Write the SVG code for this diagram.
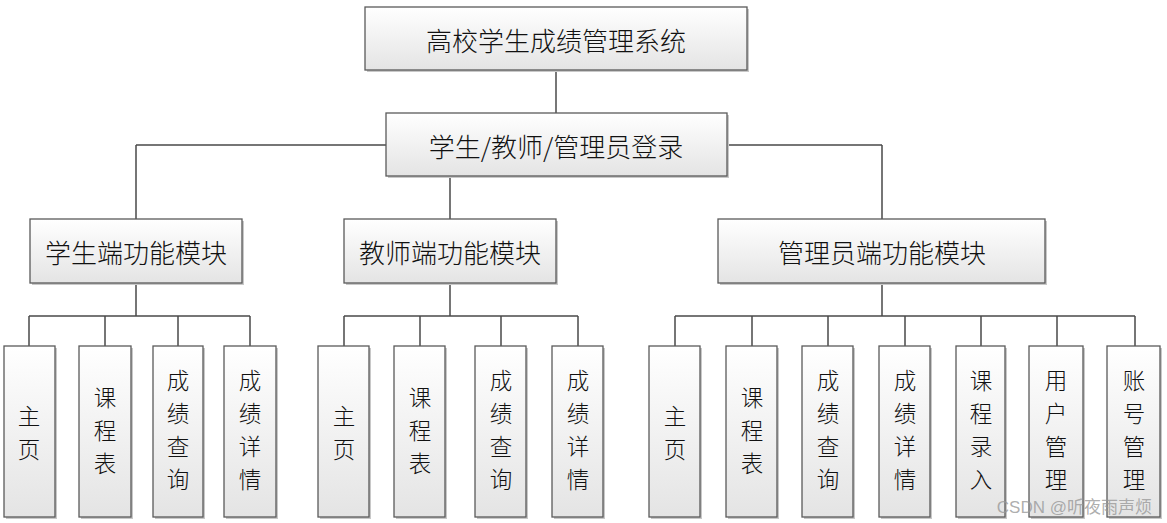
<svg xmlns="http://www.w3.org/2000/svg" width="1167" height="523" viewBox="0 0 1167 523">
<defs>
<linearGradient id="g" x1="0" y1="0" x2="0" y2="1">
<stop offset="0" stop-color="#ffffff"/>
<stop offset="1" stop-color="#e4e4e4"/>
</linearGradient>
<style>
.box{fill:url(#g);stroke:#5a5a5a;stroke-width:1.3}
.sh{fill:#c8c8c8}
.t{font-family:"Noto Sans CJK SC","Liberation Sans",sans-serif;font-size:26px;font-weight:300;fill:#111;text-anchor:middle;dominant-baseline:central}
.lt{font-family:"Noto Sans CJK SC","Liberation Sans",sans-serif;font-size:22.5px;font-weight:300;fill:#111;text-anchor:middle;dominant-baseline:central}
.c{stroke:#4a4a4a;stroke-width:1.5;fill:none}
.wm{font-family:"Liberation Sans","Noto Sans CJK SC",sans-serif;font-size:17px;fill:#999;fill-opacity:0.8;text-anchor:end}
</style>
</defs>
<rect width="1167" height="523" fill="#fff"/>
<g id="connectors">
<path class="c" d="M556 70V113"/>
<path class="c" d="M136 145H386M727 145H882M136 145V219M882 145V219M450 176V219"/>
<path class="c" d="M136 283V316M29 316H250M29 316V346M105 316V346M178 316V346M250 316V346"/>
<path class="c" d="M450 283V316M344 316H578M344 316V346M420 316V346M501 316V346M578 316V346"/>
<path class="c" d="M882 283V316M675 316H1135M675 316V346M752 316V346M828 316V346M905 316V346M981 316V346M1057 316V346M1135 316V346"/>
</g>
<g id="root"><rect class="sh" x="367" y="9" width="382" height="63"/><rect class="box" x="365" y="7" width="382" height="63"/><text class="t" x="556" y="39">高校学生成绩管理系统</text></g>
<g id="login"><rect class="sh" x="388" y="115" width="341" height="63"/><rect class="box" x="386" y="113" width="341" height="63"/><text class="t" x="556" y="145">学生/教师/管理员登录</text></g>
<g id="student"><rect class="sh" x="32" y="221" width="212" height="64"/><rect class="box" x="30" y="219" width="212" height="64"/><text class="t" x="136" y="251">学生端功能模块</text></g>
<g id="teacher"><rect class="sh" x="346" y="221" width="212" height="64"/><rect class="box" x="344" y="219" width="212" height="64"/><text class="t" x="450" y="251">教师端功能模块</text></g>
<g id="admin"><rect class="sh" x="720" y="221" width="327" height="64"/><rect class="box" x="718" y="219" width="327" height="64"/><text class="t" x="882" y="251">管理员端功能模块</text></g>

<g id="s1"><rect class="sh" x="6" y="348" width="51" height="171"/><rect class="box" x="4" y="346" width="51" height="171"/><text class="lt"><tspan x="29" y="415">主</tspan><tspan x="29" y="448">页</tspan></text></g>
<g id="s2"><rect class="sh" x="81" y="348" width="52" height="171"/><rect class="box" x="79" y="346" width="52" height="171"/><text class="lt"><tspan x="105" y="396">课</tspan><tspan x="105" y="429">程</tspan><tspan x="105" y="462">表</tspan></text></g>
<g id="s3"><rect class="sh" x="155" y="348" width="50" height="171"/><rect class="box" x="153" y="346" width="50" height="171"/><text class="lt"><tspan x="178" y="379">成</tspan><tspan x="178" y="412">绩</tspan><tspan x="178" y="445">查</tspan><tspan x="178" y="478">询</tspan></text></g>
<g id="s4"><rect class="sh" x="226" y="348" width="52" height="171"/><rect class="box" x="224" y="346" width="52" height="171"/><text class="lt"><tspan x="250" y="379">成</tspan><tspan x="250" y="412">绩</tspan><tspan x="250" y="445">详</tspan><tspan x="250" y="478">情</tspan></text></g>

<g id="t1"><rect class="sh" x="320" y="348" width="51" height="171"/><rect class="box" x="318" y="346" width="51" height="171"/><text class="lt"><tspan x="344" y="415">主</tspan><tspan x="344" y="448">页</tspan></text></g>
<g id="t2"><rect class="sh" x="396" y="348" width="51" height="171"/><rect class="box" x="394" y="346" width="51" height="171"/><text class="lt"><tspan x="420" y="396">课</tspan><tspan x="420" y="429">程</tspan><tspan x="420" y="462">表</tspan></text></g>
<g id="t3"><rect class="sh" x="477" y="348" width="51" height="171"/><rect class="box" x="475" y="346" width="51" height="171"/><text class="lt"><tspan x="501" y="379">成</tspan><tspan x="501" y="412">绩</tspan><tspan x="501" y="445">查</tspan><tspan x="501" y="478">询</tspan></text></g>
<g id="t4"><rect class="sh" x="554" y="348" width="51" height="171"/><rect class="box" x="552" y="346" width="51" height="171"/><text class="lt"><tspan x="578" y="379">成</tspan><tspan x="578" y="412">绩</tspan><tspan x="578" y="445">详</tspan><tspan x="578" y="478">情</tspan></text></g>

<g id="a1"><rect class="sh" x="651" y="348" width="51" height="171"/><rect class="box" x="649" y="346" width="51" height="171"/><text class="lt"><tspan x="675" y="415">主</tspan><tspan x="675" y="448">页</tspan></text></g>
<g id="a2"><rect class="sh" x="728" y="348" width="51" height="171"/><rect class="box" x="726" y="346" width="51" height="171"/><text class="lt"><tspan x="752" y="396">课</tspan><tspan x="752" y="429">程</tspan><tspan x="752" y="462">表</tspan></text></g>
<g id="a3"><rect class="sh" x="804" y="348" width="51" height="171"/><rect class="box" x="802" y="346" width="51" height="171"/><text class="lt"><tspan x="828" y="379">成</tspan><tspan x="828" y="412">绩</tspan><tspan x="828" y="445">查</tspan><tspan x="828" y="478">询</tspan></text></g>
<g id="a4"><rect class="sh" x="881" y="348" width="51" height="171"/><rect class="box" x="879" y="346" width="51" height="171"/><text class="lt"><tspan x="905" y="379">成</tspan><tspan x="905" y="412">绩</tspan><tspan x="905" y="445">详</tspan><tspan x="905" y="478">情</tspan></text></g>
<g id="a5"><rect class="sh" x="958" y="348" width="49" height="171"/><rect class="box" x="956" y="346" width="49" height="171"/><text class="lt"><tspan x="981" y="379">课</tspan><tspan x="981" y="412">程</tspan><tspan x="981" y="445">录</tspan><tspan x="981" y="478">入</tspan></text></g>
<g id="a6"><rect class="sh" x="1031" y="348" width="54" height="171"/><rect class="box" x="1029" y="346" width="54" height="171"/><text class="lt"><tspan x="1056" y="379">用</tspan><tspan x="1056" y="412">户</tspan><tspan x="1056" y="445">管</tspan><tspan x="1056" y="478">理</tspan></text></g>
<g id="a7"><rect class="sh" x="1109" y="348" width="53" height="171"/><rect class="box" x="1107" y="346" width="53" height="171"/><text class="lt"><tspan x="1134" y="379">账</tspan><tspan x="1134" y="412">号</tspan><tspan x="1134" y="445">管</tspan><tspan x="1134" y="478">理</tspan></text></g>

<text class="wm" x="1152" y="513">CSDN @听夜雨声烦</text>
</svg>
